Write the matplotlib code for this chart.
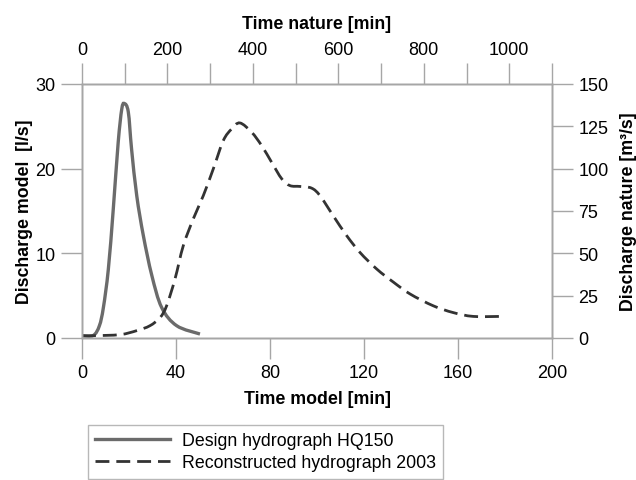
import matplotlib
matplotlib.use('Agg')
import numpy as np
import matplotlib.pyplot as plt
from matplotlib.path import Path
from matplotlib.patches import PathPatch
from matplotlib.lines import Line2D

plt.rcParams['font.family'] = ['Liberation Sans', 'DejaVu Sans']

# design hydrograph HQ150 (model time [min], model discharge [l/s])
t_design = [0, 4.8, 7.4, 9.1, 11.2, 13.3, 15.4, 16.9, 18.0, 19.7, 21.1, 23.3,
            26.1, 29.7, 33.9, 40.3, 50.2]
q_design = [0.27, 0.3, 1.45, 3.6, 8.1, 15.2, 23.1, 27.0, 27.7, 26.7, 22.3, 16.8,
            12.1, 7.4, 3.6, 1.45, 0.47]

# reconstructed hydrograph 2003 (model units)
t_rec = [0, 4.8, 16.2, 23.3, 28.9, 33.2, 36.0, 39.6, 43.1, 47.4, 51.6, 55.9,
         60.1, 63.7, 67.2, 72.2, 76.5, 80.7, 85.0, 88.5, 92.8, 97.7, 101.3,
         107.0, 112.6, 118.3, 125.4, 132.5, 139.6, 149.5, 158.0, 166.5, 177.9]
q_rec = [0.27, 0.27, 0.4, 0.87, 1.45, 2.4, 3.8, 7.0, 10.9, 14.1, 16.8, 20.0,
         23.3, 24.7, 25.4, 24.3, 22.7, 20.75, 18.8, 18.0, 17.9, 17.7, 16.8,
         14.4, 12.1, 10.1, 8.15, 6.6, 5.2, 3.8, 3.0, 2.55, 2.55]

x_ticks = [0, 40, 80, 120, 160, 200]
y_ticks = [0, 10, 20, 30]
top_ticks = [0, 200, 400, 600, 800, 1000]
right_ticks = [0, 25, 50, 75, 100, 125, 150]


def smooth_path(x, y):
    # smoothed line like a spreadsheet: bezier segments through the points
    p = np.column_stack([x, y]).astype(float)
    verts = [p[0]]
    codes = [Path.MOVETO]
    n = len(p)
    for i in range(n - 1):
        p0 = p[max(i - 1, 0)]
        p1 = p[i]
        p2 = p[i + 1]
        p3 = p[min(i + 2, n - 1)]
        verts += [p1 + (p2 - p0) / 6, p2 - (p3 - p1) / 6, p2]
        codes += [Path.CURVE4] * 3
    return Path(verts, codes)


gray = '#a6a6a6'
fs = 13
lfs = 12.8

fig = plt.figure(figsize=(6.36, 4.81), dpi=100)
ax = fig.add_axes([82/636, 1-339/481, 470/636, 254/481])

c1, c2 = '#6b6b6b', '#333333'
ax.add_patch(PathPatch(smooth_path(t_design, q_design), fill=False, ec=c1, lw=2.4))
ax.add_patch(PathPatch(smooth_path(t_rec, q_rec), fill=False, ec=c2, lw=2.0,
                       ls=(0, (5, 2.5))))

ax.set_xlim(0, 200)
ax.set_ylim(0, 30)
ax.set_xticks(x_ticks)
ax.set_yticks(y_ticks)
ax.set_xlabel('Time model [min]', fontsize=lfs, fontweight='bold', labelpad=6)
ax.set_ylabel('Discharge model  [l/s]', fontsize=lfs, fontweight='bold', labelpad=2)

axr = ax.twinx()
axr.set_ylim(0, 150)
axr.set_yticks(right_ticks)
axr.set_ylabel('Discharge nature [m³/s]', fontsize=lfs, fontweight='bold', labelpad=8)

axt = ax.twiny()
axt.set_xlim(0, 1100)
axt.set_xticks(top_ticks)
axt.set_xticks(range(100, 1101, 200), minor=True)
axt.set_xlabel('Time nature [min]', fontsize=lfs, fontweight='bold', labelpad=9)

for a in (ax, axr, axt):
    for s in a.spines.values():
        s.set_color(gray)
        s.set_linewidth(1.0)
    a.tick_params(which='both', direction='out', length=15, width=1.0, color=gray,
                  labelsize=fs, pad=4)

h1 = Line2D([], [], color=c1, lw=2.4)
h2 = Line2D([], [], color=c2, lw=2.0, ls=(0, (5, 2.5)))
fig.legend([h1, h2], ['Design hydrograph HQ150', 'Reconstructed hydrograph 2003'],
           loc='upper left', bbox_to_anchor=(88/636, 1-426/481),
           fontsize=12.8, frameon=True, fancybox=False, edgecolor=gray,
           handlelength=4.2, handletextpad=0.67, borderpad=0.4,
           labelspacing=0.3, borderaxespad=0)

fig.savefig('out.png', dpi=100)
